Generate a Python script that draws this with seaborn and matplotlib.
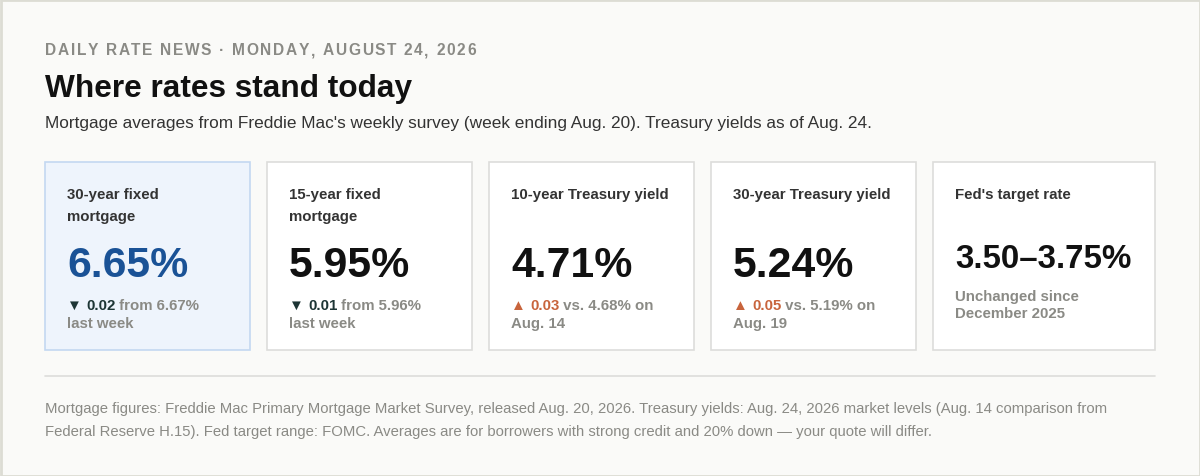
import numpy as np
import matplotlib
matplotlib.use("Agg")
import matplotlib.pyplot as plt
import seaborn as sns
from matplotlib.patches import Rectangle

# Data
card_titles = ["30-year fixed\nmortgage", "15-year fixed\nmortgage",
               "10-year Treasury yield", "30-year Treasury yield",
               "Fed's target rate"]
rates = [6.65, 5.95, 4.71, 5.24]
prev_rates = [6.67, 5.96, 4.68, 5.19]
compare_words = ["from", "from", "vs.", "vs."]
compare_tail = ["", "", " on", " on"]
compare_line2 = ["last week", "last week", "Aug. 14", "Aug. 19"]
fed_range = [3.50, 3.75]
fed_note = ["Unchanged since", "December 2025"]

kicker = "DAILY RATE NEWS · MONDAY, AUGUST 24, 2026"
title = "Where rates stand today"
subtitle = ("Mortgage averages from Freddie Mac's weekly survey (week ending Aug. 20). "
            "Treasury yields as of Aug. 24.")
footnote = ["Mortgage figures: Freddie Mac Primary Mortgage Market Survey, released Aug. 20, 2026. "
            "Treasury yields: Aug. 24, 2026 market levels (Aug. 14 comparison from",
            "Federal Reserve H.15). Fed target range: FOMC. Averages are for borrowers with "
            "strong credit and 20% down \u2014 your quote will differ."]

sns.set_theme(style="white")
plt.rcParams['font.family'] = ['Liberation Sans', 'DejaVu Sans']

BG = "#fafaf8"
DARK = "#111111"
LABEL = "#333333"
GRAY = "#8a8a85"
BLUE = "#1a5296"
DOWN = "#1d3535"
UP = "#c8643c"

fig = plt.figure(figsize=(12, 4.77), dpi=100, facecolor=BG)
ax = fig.add_axes([0, 0, 1, 1])
ax.set_xlim(0, 1200)
ax.set_ylim(477, 0)
ax.set_facecolor(BG)
ax.axis("off")
sns.despine(ax=ax, left=True, bottom=True)

renderer = fig.canvas.get_renderer()


def runs(x, y, parts, size, weight="bold"):
    # draw consecutive text pieces on one baseline
    for txt, col in parts:
        t = ax.text(x, y, txt, color=col, fontsize=size, fontweight=weight,
                    va="baseline", ha="left")
        x += t.get_window_extent(renderer=renderer).width
    return x


def spaced(x, y, txt, size, color, spacing):
    for ch in txt:
        t = ax.text(x, y, ch, color=color, fontsize=size, fontweight="bold",
                    va="baseline", ha="left")
        x += t.get_window_extent(renderer=renderer).width + spacing


# outer frame
ax.add_patch(Rectangle((0.5, 0.5), 1199, 476, fill=False, ec="#dcdcd4", lw=2))

spaced(45, 55, kicker, 11.2, GRAY, 1.65)
ax.text(45, 97, title, fontsize=22.8, fontweight="bold", color=DARK, va="baseline")
ax.text(45, 128, subtitle, fontsize=12.4, color=LABEL, va="baseline")

lefts = [45, 267, 489, 711, 933]
widths = [205, 205, 205, 205, 222]
top, height = 163, 188

for i, (lx, w) in enumerate(zip(lefts, widths)):
    if i == 0:
        fc, ec = "#eef4fc", "#c3d8f1"
    else:
        fc, ec = "#ffffff", "#dddddb"
    ax.add_patch(Rectangle((lx, top), w, height, fc=fc, ec=ec, lw=1.2))
    tx = lx + 22
    lines = card_titles[i].split("\n")
    for j, ln in enumerate(lines):
        ax.text(tx, 199 + 22 * j, ln, fontsize=10.8, fontweight="bold",
                color=LABEL, va="baseline")
    if i < 4:
        ax.text(tx, 277, f"{rates[i]:.2f}%", fontsize=30.8, fontweight="bold",
                color=BLUE if i == 0 else DARK, va="baseline")
        chg = rates[i] - prev_rates[i]
        col = DOWN if chg < 0 else UP
        arrow = "\u25bc" if chg < 0 else "\u25b2"
        runs(tx, 310, [(arrow + " ", col), (f"{abs(chg):.2f}", col),
                       (f" {compare_words[i]} {prev_rates[i]:.2f}%{compare_tail[i]}", GRAY)],
             10.8)
        ax.text(tx, 328, compare_line2[i], fontsize=10.8, fontweight="bold",
                color=GRAY, va="baseline")
    else:
        ax.text(tx, 268, f"{fed_range[0]:.2f}\u2013{fed_range[1]:.2f}%", fontsize=23.9,
                fontweight="bold", color=DARK, va="baseline")
        for j, ln in enumerate(fed_note):
            ax.text(tx, 301 + 17 * j, ln, fontsize=10.8, fontweight="bold",
                    color=GRAY, va="baseline")

ax.plot([45, 1155], [377, 377], color="#dddddb", lw=1.2)
for j, ln in enumerate(footnote):
    ax.text(45, 413 + 23 * j, ln, fontsize=10.7, color=GRAY, va="baseline")

fig.savefig("out.png", dpi=100, facecolor=BG)
